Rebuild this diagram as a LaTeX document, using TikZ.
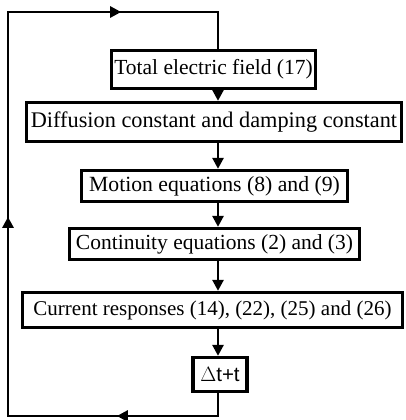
\documentclass[tikz,border=0pt]{standalone}
\usepackage{fontspec}
\setmainfont{Liberation Serif}
\newfontfamily\arialfont{Liberation Sans}
\usetikzlibrary{arrows.meta,decorations.markings}
\begin{document}
\begin{tikzpicture}[x=1pt,y=-1pt]
\tikzset{
  box/.style={draw, line width=3.3pt, inner sep=0pt, fill=white,
    font=\fontsize{21.5}{25}\selectfont},
  conn/.style={line width=2.6pt},
  tipx/.style={-{Triangle[length=11pt,width=11pt]}}
}
\fill[white] (0,0) rectangle (406,420);
\useasboundingbox (0,0) rectangle (406,420);
\coordinate (col) at (218,0);
\node[box, minimum width=204pt, minimum height=38pt] (total) at (213.5,69.5) {Total electric field (17)};
\node[box, minimum width=375pt, minimum height=39pt, font=\fontsize{22.3}{26}\selectfont] (diff) at (214,122) {Diffusion constant and damping constant};
\node[box, minimum width=266pt, minimum height=31pt, font=\fontsize{21.7}{25}\selectfont] (motion) at (214.5,186) {Motion equations (8) and (9)};
\node[box, minimum width=290pt, minimum height=31pt] (cont) at (214.5,244) {Continuity equations (2) and (3)};
\node[box, minimum width=380pt, minimum height=35pt, font=\fontsize{21}{24}\selectfont] (curr) at (212.5,310) {Current responses (14), (22), (25) and (26)};
\node[box, minimum width=54pt, minimum height=34pt, font=\arialfont\fontsize{20.5}{24}\selectfont] (dt) at (220,374.5) {$\Delta$t+t};
\coordinate (br) at (218,416);
\coordinate (bl) at (8,416);
\coordinate (tl) at (8,12);
\coordinate (tr) at (218,12);
\draw[conn, tipx] (total.south -| col) -- (diff.north -| col);
\draw[conn, tipx] (diff.south -| col) -- (motion.north -| col);
\draw[conn, tipx] (motion.south -| col) -- (cont.north -| col);
\draw[conn, tipx] (cont.south -| col) -- (curr.north -| col);
\draw[conn, tipx] (curr.south -| col) -- (dt.north -| col);
\draw[conn, line join=miter, postaction={decorate}, decoration={markings,
   mark=at position 124pt with {\arrow{Triangle[length=11pt,width=11pt]}},
   mark=at position 432pt with {\arrow{Triangle[length=11pt,width=11pt]}},
   mark=at position 750pt with {\arrow{Triangle[length=11pt,width=11pt]}}}]
  (dt.south -| col) -- (br) -- (bl) -- (tl) -- (tr) -- (total.north -| col);
\end{tikzpicture}
\end{document}
